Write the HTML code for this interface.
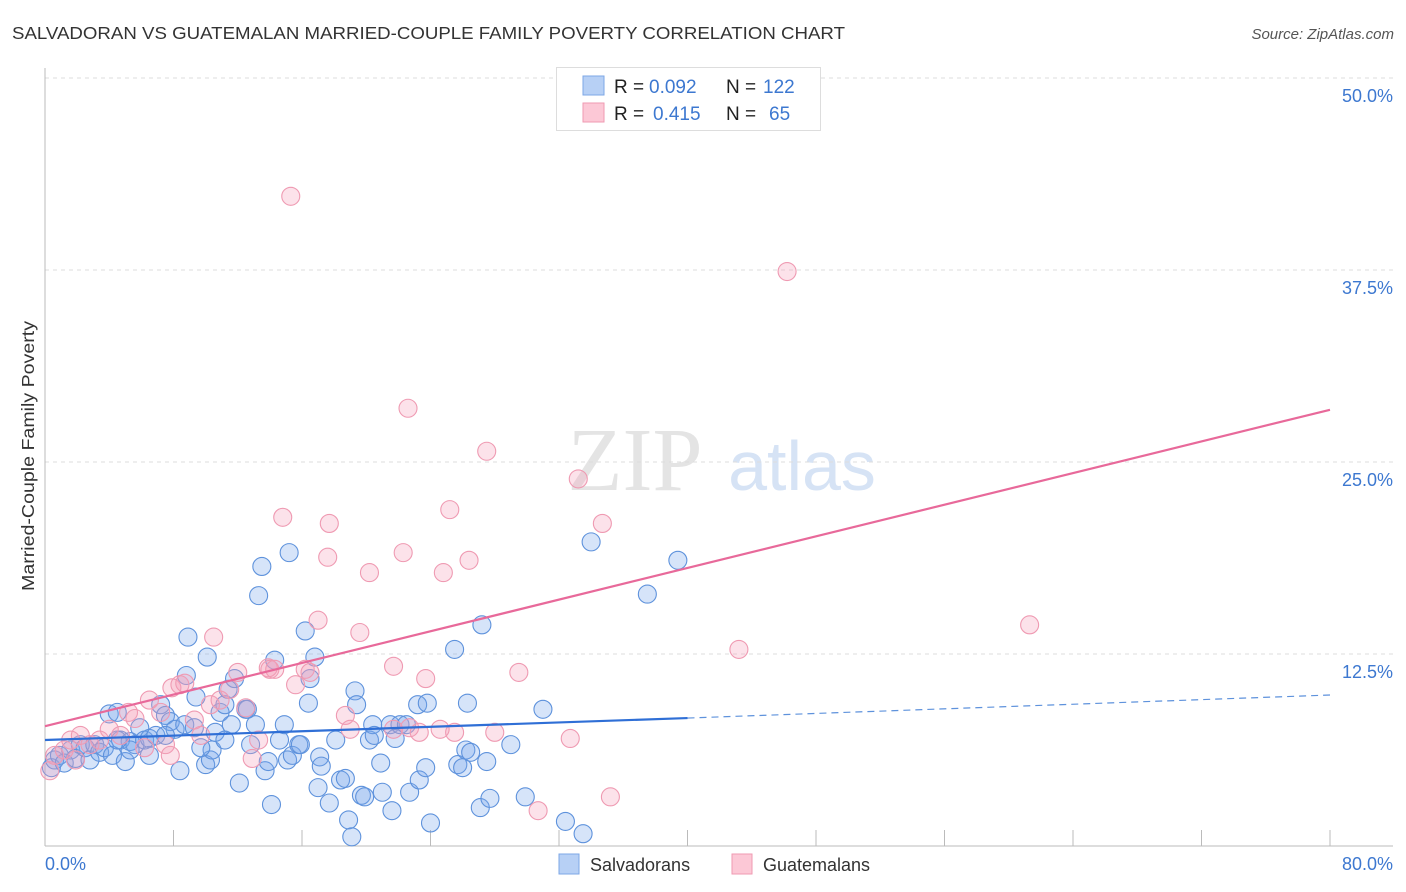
<!DOCTYPE html>
<html><head><meta charset="utf-8"><style>
body{margin:0;background:#fff;font-family:"Liberation Sans",sans-serif}
svg{display:block}
</style></head><body>
<svg id="c" width="1406" height="892" xmlns="http://www.w3.org/2000/svg">
<text x="12" y="39" font-size="17.5" fill="#333" textLength="833" lengthAdjust="spacingAndGlyphs">SALVADORAN VS GUATEMALAN MARRIED-COUPLE FAMILY POVERTY CORRELATION CHART</text>
<text x="1394" y="39" font-size="15" fill="#555" font-style="italic" text-anchor="end">Source: ZipAtlas.com</text>
<text x="0" y="0" font-size="17.5" fill="#333" text-anchor="middle" textLength="270" lengthAdjust="spacingAndGlyphs" transform="translate(34,456) rotate(-90)">Married-Couple Family Poverty</text>
<g><text x="635" y="490" font-size="90" font-family="Liberation Serif,serif" fill="#e4e4e4" text-anchor="middle">ZIP</text><text x="802" y="490" font-size="70" fill="#d6e3f5" text-anchor="middle">atlas</text></g>
<g id="grid"></g><g id="axes"></g><g id="pts"></g><g id="lines"></g>
<g>
<rect x="556.5" y="67.5" width="264" height="63" fill="#fff" stroke="#ddd"/>
<rect x="583" y="76" width="21" height="19" fill="#b7d0f5" stroke="#7ea7e6"/>
<rect x="583" y="103" width="21" height="19" fill="#fcc8d6" stroke="#ef9ab2"/>
<text x="614" y="93" font-size="19" fill="#222">R =</text>
<text x="649" y="93" font-size="19" fill="#3d78d0">0.092</text>
<text x="726" y="93" font-size="19" fill="#222">N =</text>
<text x="763" y="93" font-size="19" fill="#3d78d0">122</text>
<text x="614" y="120" font-size="19" fill="#222">R =</text>
<text x="653" y="120" font-size="19" fill="#3d78d0">0.415</text>
<text x="726" y="120" font-size="19" fill="#222">N =</text>
<text x="769" y="120" font-size="19" fill="#3d78d0">65</text>
</g>
<g>
<rect x="559" y="854" width="20" height="20" fill="#b7d0f5" stroke="#7ea7e6"/>
<text x="590" y="871" font-size="18" fill="#333">Salvadorans</text>
<rect x="732" y="854" width="20" height="20" fill="#fcc8d6" stroke="#ef9ab2"/>
<text x="763" y="871" font-size="18" fill="#333">Guatemalans</text>
</g>
</svg>
<script>
const yTicks=[12.5,25,37.5,50];
const yTickLabels=["12.5%","25.0%","37.5%","50.0%"];
const xTickLabels=["0.0%","80.0%"];
const blueX=[0.4,0.6,0.9,1.2,1.6,1.9,2.2,2.5,2.8,3.1,3.4,3.7,4.0,4.2,4.5,4.7,5.0,5.3,5.6,5.9,6.2,6.5,6.9,7.2,7.5,7.8,8.1,8.4,8.7,8.9,8.8,9.3,9.4,10.0,10.1,10.3,10.4,10.6,10.9,11.2,11.4,11.6,11.8,12.1,12.5,12.8,13.1,13.3,13.5,13.7,13.9,14.1,14.3,14.6,14.9,15.1,15.2,15.4,15.8,15.9,16.2,16.4,16.5,16.8,17.0,17.1,17.2,17.7,18.1,18.4,18.7,18.9,19.1,19.3,19.4,19.7,19.9,20.2,20.4,20.5,20.9,21.0,21.5,21.6,21.8,22.1,22.5,22.7,23.2,23.3,23.7,23.8,24.0,25.5,25.7,26.0,26.2,26.3,26.5,27.1,27.2,27.5,27.7,29.0,29.9,31.0,32.4,33.5,34.0,37.5,39.4,12.6,11.2,9.7,6.5,5.3,7.5,4.5];
const blueY=[5.1,5.6,5.9,5.4,6.25,5.7,6.6,6.4,5.6,6.6,6.1,6.4,8.6,5.9,8.7,6.9,5.5,6.8,6.6,7.7,6.9,7.0,7.2,9.2,8.5,8.1,7.6,4.9,7.9,13.6,11.1,7.7,9.7,5.3,12.3,5.6,6.25,7.4,8.7,9.2,10.2,7.9,10.9,4.1,8.9,6.6,7.9,16.3,18.2,4.9,5.5,2.7,12.1,6.9,7.9,5.6,19.1,5.9,6.6,6.6,14.0,9.3,10.9,12.3,3.8,5.8,5.2,2.8,6.9,4.3,4.4,1.7,0.6,10.1,9.2,3.3,3.2,6.9,7.9,7.2,5.4,3.5,7.9,2.3,7.0,7.9,7.9,3.5,9.2,4.3,5.1,9.3,1.5,12.8,5.3,5.1,6.25,9.3,6.1,2.5,14.4,5.5,3.1,6.6,3.2,8.9,1.6,0.8,19.8,16.4,18.6,8.9,6.9,6.4,5.9,6.25,7.2,6.9];
const pinkX=[0.3,0.6,1.2,1.6,2.2,2.8,3.4,4.0,4.7,5.2,5.6,6.2,6.5,7.2,7.5,7.9,8.4,8.7,9.3,9.7,10.3,10.5,10.9,11.5,12.0,12.5,12.9,13.3,13.9,14.0,14.3,14.8,15.3,15.6,16.2,16.5,17.0,17.6,17.7,18.7,19.0,19.6,20.2,21.7,21.7,22.3,22.6,22.7,23.3,23.7,24.8,25.2,25.5,26.4,27.5,28.0,29.5,30.7,32.7,33.2,34.7,35.2,43.2,46.2,61.3,24.6,7.8,1.9];
const pinkY=[4.9,5.9,6.25,6.9,7.2,6.6,6.9,7.6,7.2,8.7,8.3,6.4,9.5,8.7,6.6,10.3,10.5,10.6,8.2,7.2,9.2,13.6,9.5,10.2,11.3,9.0,5.7,6.9,11.6,11.5,11.5,21.4,42.3,10.5,11.5,11.3,14.7,18.8,21.0,8.5,7.6,13.9,17.8,7.6,11.7,19.1,28.5,7.7,7.4,10.9,17.8,21.9,7.4,18.6,25.7,7.4,11.3,2.3,7.0,23.9,21.0,3.2,12.8,37.4,14.4,7.6,5.9,5.6];
const blueTrend=[6.9,8.33,9.83]; // at x=0,40,80
const pinkTrend=[7.8,28.4]; // at x=0,80
const X=v=>45+v/80*1285, Y=v=>846-v/12.5*192;
const NS="http://www.w3.org/2000/svg";
function mk(t,a,p){const e=document.createElementNS(NS,t);for(const k in a)e.setAttribute(k,a[k]);p.appendChild(e);return e;}
const grid=document.getElementById('grid'),axes=document.getElementById('axes'),pts=document.getElementById('pts'),lines=document.getElementById('lines');
yTicks.forEach((t,i)=>{
 const g=mk('line',{x1:45,x2:1393,y1:Y(t),y2:Y(t),stroke:'#ddd','stroke-dasharray':'4,4'},grid);
 
 
 const l=mk('text',{x:1393,y:Y(t)+24,'font-size':18,fill:'#3d78d0','text-anchor':'end'},axes);
 l.textContent=yTickLabels[i];
 
 
});
const ax=mk('line',{x1:45,x2:45,y1:68,y2:846,stroke:'#bbb'},axes);


const bx=mk('line',{x1:45,x2:1393,y1:846,y2:846,stroke:'#bbb'},axes);


for(let i=0;i<=10;i++){const tk=mk('line',{x1:X(i*8),x2:X(i*8),y1:830,y2:846,stroke:'#bbb'},axes);
 
 }
const xl0=mk('text',{x:45,y:870,'font-size':18,fill:'#3d78d0'},axes);xl0.textContent=xTickLabels[0];


const xl1=mk('text',{x:1393,y:870,'font-size':18,fill:'#3d78d0','text-anchor':'end'},axes);xl1.textContent=xTickLabels[1];


blueX.forEach((x,i)=>{const c=mk('circle',{cx:X(x),cy:Y(blueY[i]),r:9,fill:'rgba(120,165,235,0.3)',stroke:'#5e92dc','stroke-width':1.1},pts);
 
 });
pinkX.forEach((x,i)=>{const c=mk('circle',{cx:X(x),cy:Y(pinkY[i]),r:9,fill:'rgba(245,160,185,0.3)',stroke:'#ef9ab2','stroke-width':1.1},pts);
 
 });
const b1=mk('line',{x1:X(0),y1:Y(blueTrend[0]),x2:X(40),y2:Y(blueTrend[1]),stroke:'#2f6fd6','stroke-width':2.2},lines);


const b2=mk('line',{x1:X(40),y1:Y(blueTrend[1]),x2:X(80),y2:Y(blueTrend[2]),stroke:'#5e92dc','stroke-width':1.2,'stroke-dasharray':'7,5'},lines);


const p1=mk('line',{x1:X(0),y1:Y(pinkTrend[0]),x2:X(80),y2:Y(pinkTrend[1]),stroke:'#e8699a','stroke-width':2.2},lines);


</script>
</body></html>
